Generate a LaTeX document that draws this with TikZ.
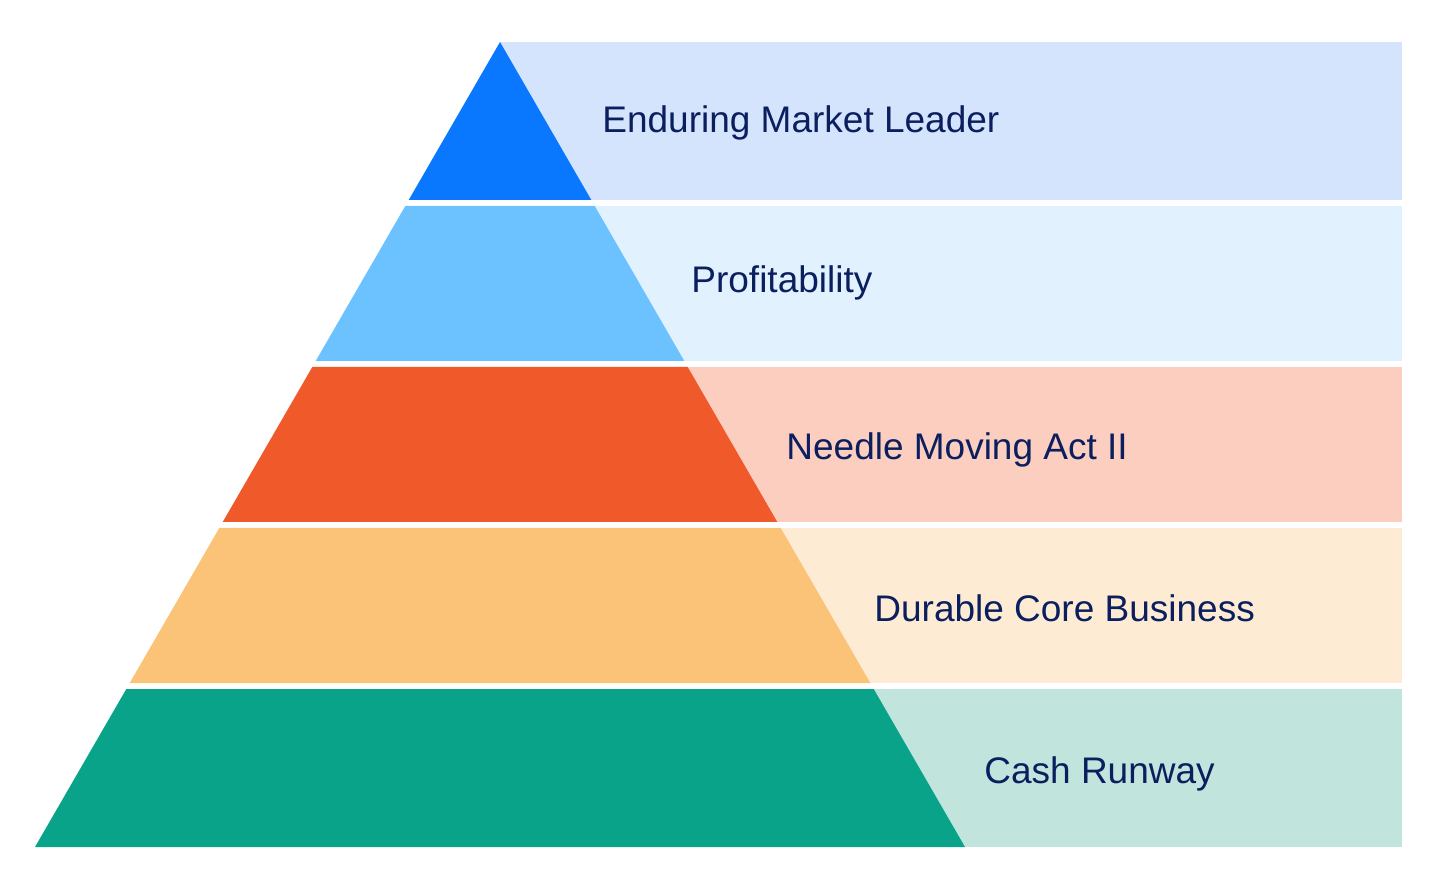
\documentclass[tikz,border=0pt]{standalone}
\usepackage{fontspec}
\setmainfont{Liberation Sans}
\usepackage{tikz}
\definecolor{leaderCol}{HTML}{0A77FF}
\definecolor{leaderBg}{HTML}{D4E4FD}
\definecolor{profitCol}{HTML}{6CC1FF}
\definecolor{profitBg}{HTML}{E1F1FD}
\definecolor{needleCol}{HTML}{F05A2A}
\definecolor{needleBg}{HTML}{FCCEC0}
\definecolor{coreCol}{HTML}{FAC378}
\definecolor{coreBg}{HTML}{FDEBD4}
\definecolor{cashCol}{HTML}{09A38A}
\definecolor{cashBg}{HTML}{C1E4DD}
\definecolor{labText}{HTML}{0B1F5E}

\begin{document}
\begin{tikzpicture}[
    x=0.5pt, y=-0.5pt,
    lab/.style={
      text=labText, anchor=base west, inner sep=0pt,
      font=\fontsize{18.5}{22}\selectfont
    },
  ]
    \useasboundingbox (0,0) rectangle (1456,876);
    % bands behind the pyramid
    \fill[leaderBg] (500,42) rectangle (1402,200);
    \fill[profitBg] (500,206) rectangle (1402,361);
    \fill[needleBg] (500,367) rectangle (1402,522);
    \fill[coreBg] (500,528) rectangle (1402,683);
    \fill[cashBg] (500,689) rectangle (1402,847);
    % pyramid levels
    \fill[leaderCol] (500,42) -- (591.3,200) -- (408.7,200) -- cycle;
    \fill[profitCol] (405.3,206) -- (594.7,206) -- (684.3,361) -- (315.7,361) -- cycle;
    \fill[needleCol] (312.3,367) -- (687.7,367) -- (777.3,522) -- (222.7,522) -- cycle;
    \fill[coreCol] (219.3,528) -- (780.7,528) -- (870.3,683) -- (129.7,683) -- cycle;
    \fill[cashCol] (126.3,689) -- (873.7,689) -- (965,847) -- (35,847) -- cycle;
    % labels
    \node[lab] (leader) at (602,133) {Enduring Market Leader};
    \node[lab] (profit) at (691,293) {Profitability};
    \node[lab] (needle) at (786,460) {Needle Moving Act II};
    \node[lab] (core) at (874,622) {Durable Core Business};
    \node[lab] (cash) at (984,783) {Cash Runway};
  \end{tikzpicture}
\end{document}
